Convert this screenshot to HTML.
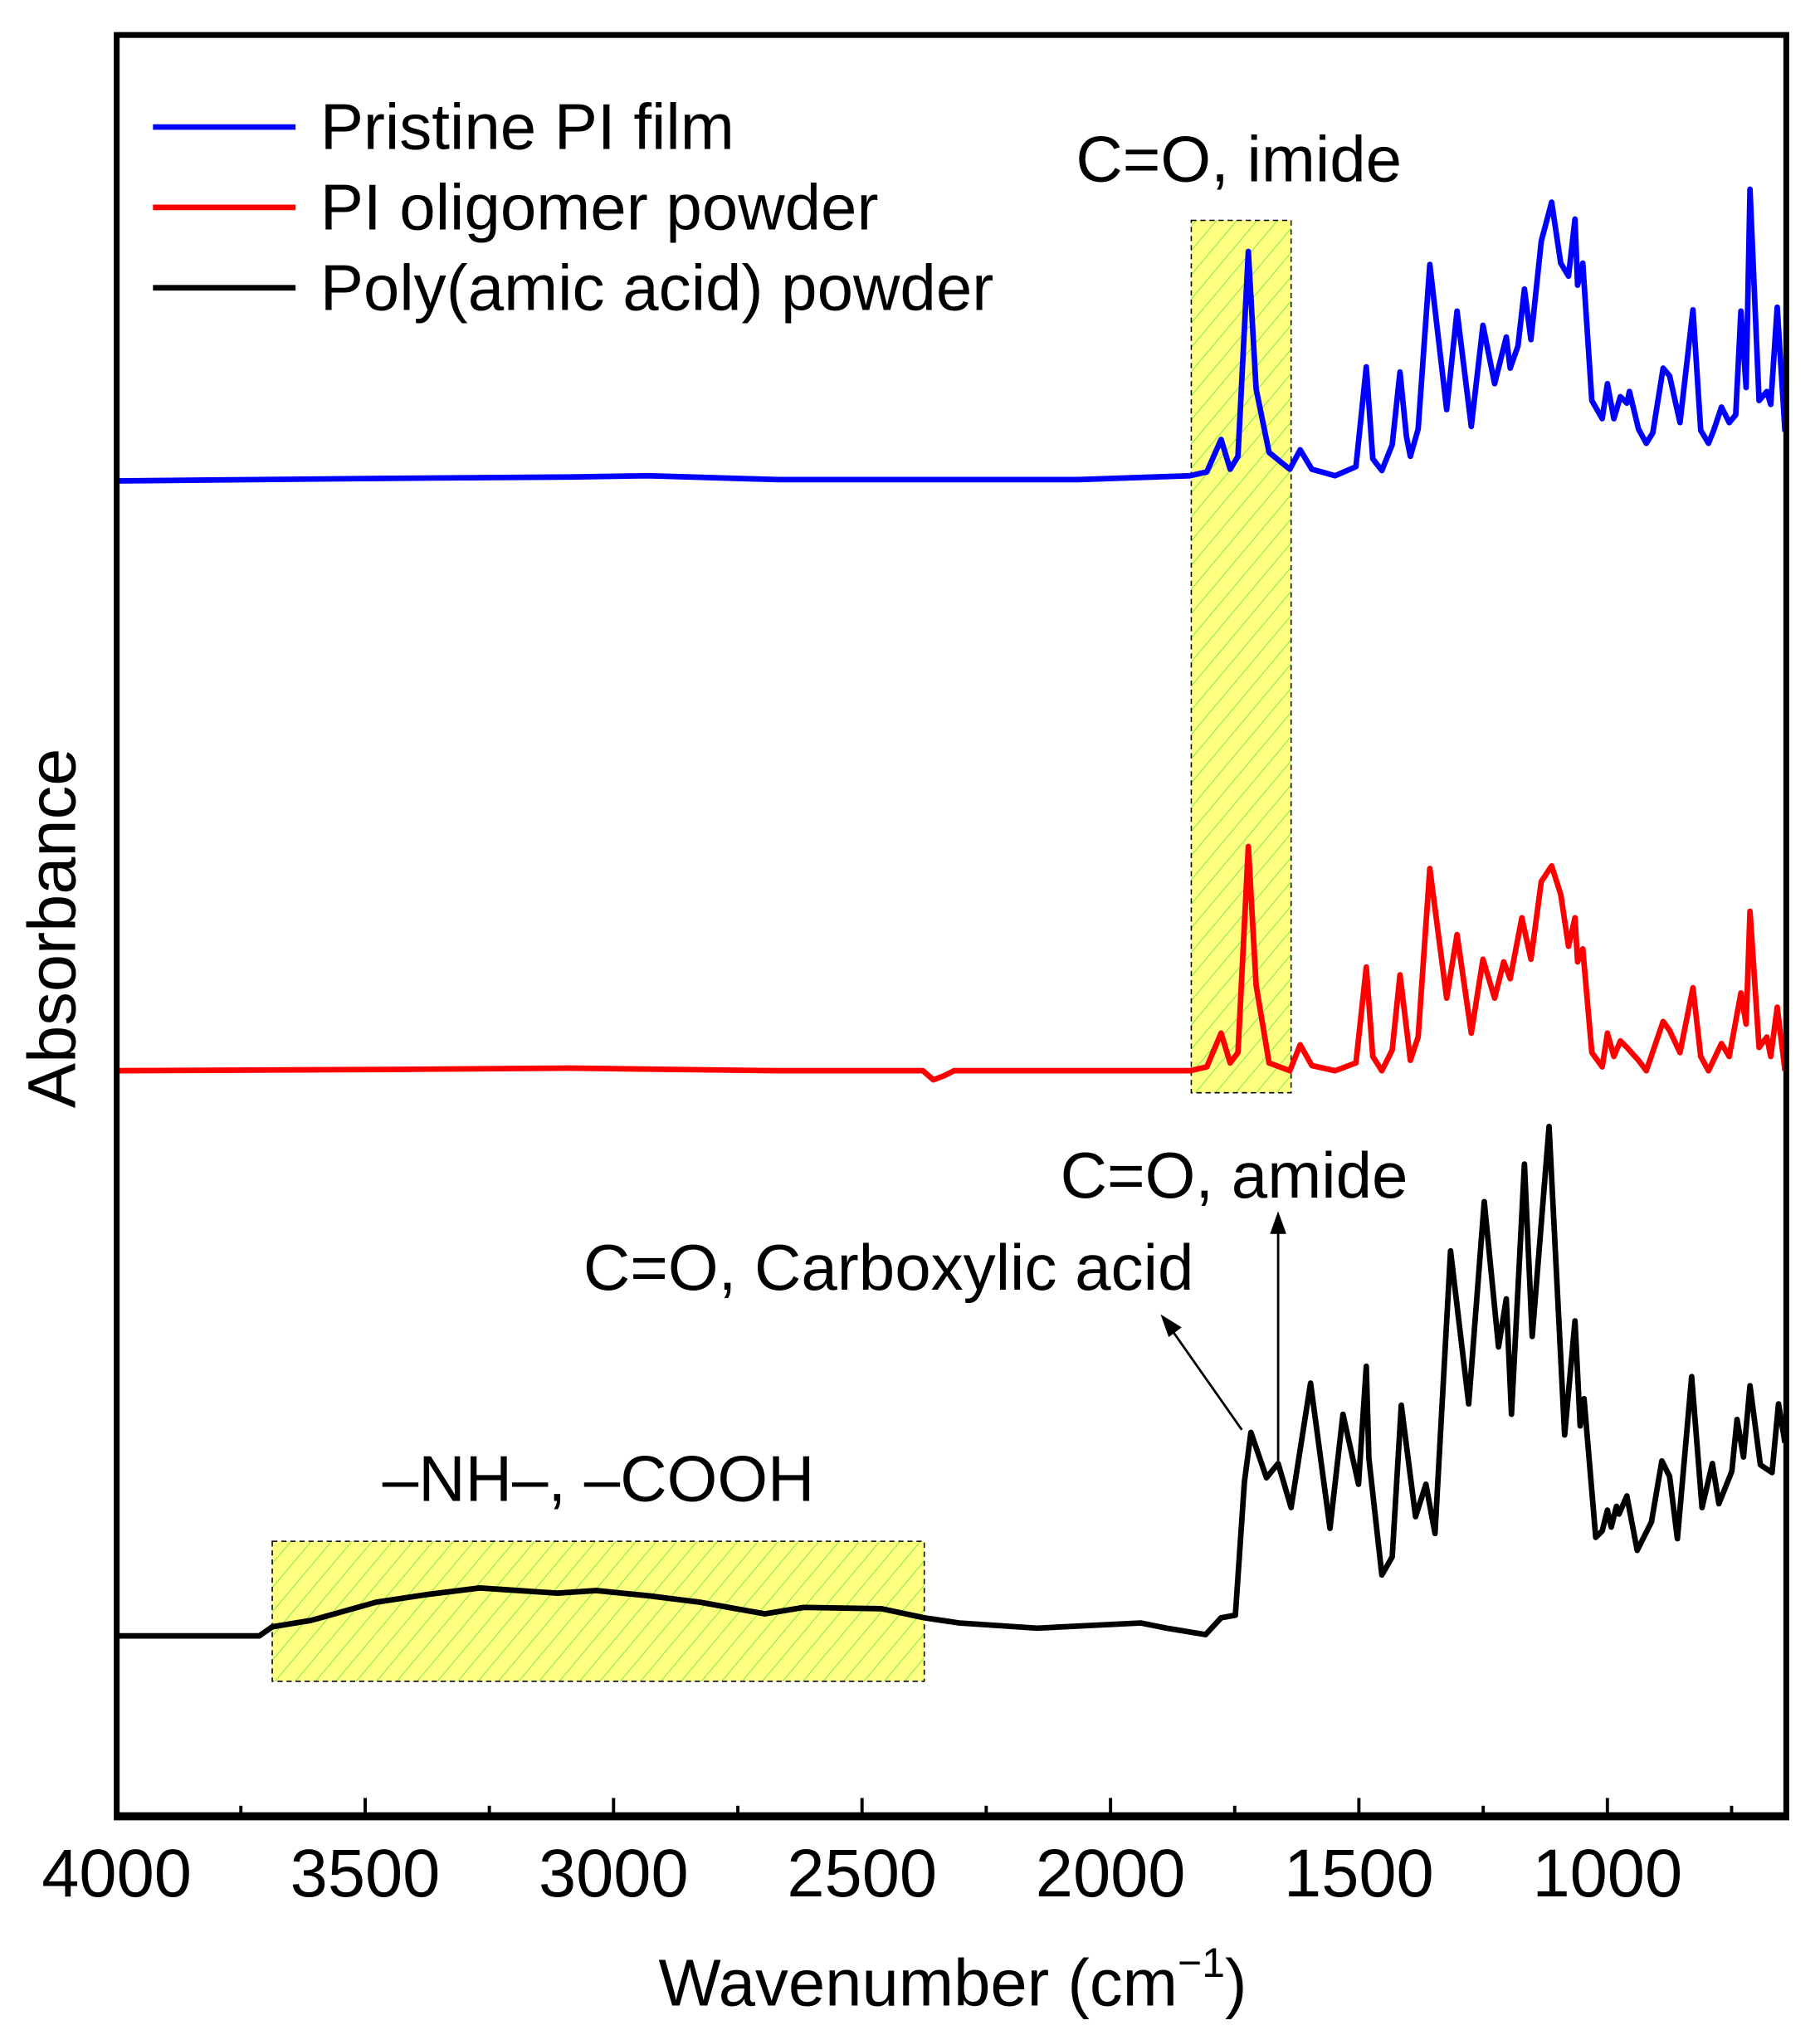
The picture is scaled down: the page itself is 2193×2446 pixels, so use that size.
<!DOCTYPE html>
<html><head><meta charset="utf-8"><style>html,body{margin:0;padding:0;background:#fff}svg{display:block}</style></head><body>
<svg xmlns="http://www.w3.org/2000/svg" width="2193" height="2446" viewBox="0 0 1404 1566" font-family="Liberation Sans, Arial, sans-serif">
<defs>
<pattern id="h" patternUnits="userSpaceOnUse" width="12" height="12" patternTransform="rotate(40)">
<rect width="12" height="12" fill="#ffff80"/>
<line x1="0" y1="0" x2="0" y2="12" stroke="#33dd33" stroke-width="0.8"/>
</pattern>
</defs>
<rect x="919" y="170" width="77" height="673" fill="url(#h)" stroke="#000" stroke-width="1" stroke-dasharray="4,3"/>
<rect x="210" y="1189" width="503" height="108" fill="url(#h)" stroke="#000" stroke-width="1" stroke-dasharray="4,3"/>
<g fill="none" stroke-width="4.3" stroke-linejoin="round">
<polyline stroke="#0000ff" points="90,371 300,369 440,368 500,367 600,370 720,370 832,370 918,367 931,364 942,339 949,362 955,352 963,194 969,300 979,349 995,362 1003,347 1012,362 1030,367 1046,360 1054,283 1059,354 1066,363 1074,343 1080,287 1085,337 1088,352 1094,331 1103,204 1116,316 1124,240 1135,329 1144,251 1153,296 1162,260 1165,284 1171,267 1176,223 1181,262 1189,186 1197,156 1204,203 1210,213 1215,169 1217,220 1221,203 1228,309 1236,323 1240,296 1245,323 1250,306 1255,311 1257,302 1264,331 1270,342 1275,334 1283,284 1288,290 1296,326 1306,239 1312,332 1318,342 1322,332 1328,314 1334,326 1339,320 1343,240 1347,299 1350,146 1357,309 1363,302 1366,312 1371,237 1377,333"/>
<polyline stroke="#ff0000" points="90,826 300,825 440,824 600,826 712,826 720,833 728,830 736,826 918,826 931,823 942,797 949,820 955,812 963,653 969,760 979,820 995,826 1003,806 1012,822 1030,826 1046,820 1054,746 1059,815 1066,826 1074,810 1080,752 1088,818 1094,800 1103,670 1116,770 1124,721 1135,797 1144,740 1153,770 1160,742 1165,755 1174,708 1181,740 1189,680 1197,668 1204,690 1210,730 1215,708 1217,742 1221,732 1228,812 1236,823 1240,797 1245,815 1250,803 1255,808 1264,818 1270,826 1283,788 1288,795 1296,812 1306,762 1312,815 1318,826 1328,805 1334,815 1343,766 1347,790 1350,703 1357,808 1363,800 1366,815 1371,777 1377,826"/>
<polyline stroke="#000" points="90,1262 200,1262 210,1255 240,1250 290,1236 330,1230 370,1225 400,1227 430,1229 460,1227 500,1231 540,1236 590,1245 620,1240 680,1241 713,1248 740,1252 800,1256 880,1252 900,1256 930,1261 942,1248 953,1246 960,1143 965,1105 977,1140 986,1129 996,1163 1011,1067 1026,1179 1036,1091 1048,1145 1054,1054 1056,1125 1066,1215 1074,1201 1081,1084 1092,1170 1100,1145 1107,1183 1119,965 1133,1083 1145,927 1156,1039 1162,1002 1166,1091 1176,898 1182,1031 1195,869 1207,1107 1215,1019 1219,1100 1222,1079 1231,1186 1236,1181 1240,1165 1243,1178 1247,1162 1249,1168 1255,1154 1263,1196 1274,1174 1282,1127 1288,1139 1294,1187 1305,1062 1313,1163 1321,1129 1326,1160 1336,1135 1340,1095 1345,1124 1350,1069 1358,1130 1367,1136 1372,1083 1377,1113"/>
</g>
<g stroke="#000" stroke-width="1.8" fill="#000">
<line x1="958" y1="1103" x2="904" y2="1026"/>
<polygon points="897,1016 910,1024 902,1030"/>
<line x1="986" y1="1127" x2="986" y2="950"/>
<polygon points="986,937 981,951 991,951"/>
</g>
<rect x="90" y="27" width="1288" height="1375" fill="none" stroke="#000" stroke-width="4.5"/>
<line x1="88" y1="1401" x2="1380" y2="1401" stroke="#000" stroke-width="6"/>
<g stroke="#000" stroke-width="2.5">
<line x1="281.7" y1="1399" x2="281.7" y2="1387"/><line x1="473.3" y1="1399" x2="473.3" y2="1387"/><line x1="665" y1="1399" x2="665" y2="1387"/><line x1="856.7" y1="1399" x2="856.7" y2="1387"/><line x1="1048.3" y1="1399" x2="1048.3" y2="1387"/><line x1="1240" y1="1399" x2="1240" y2="1387"/>
<line x1="185.8" y1="1399" x2="185.8" y2="1393"/><line x1="377.5" y1="1399" x2="377.5" y2="1393"/><line x1="569.2" y1="1399" x2="569.2" y2="1393"/><line x1="760.8" y1="1399" x2="760.8" y2="1393"/><line x1="952.5" y1="1399" x2="952.5" y2="1393"/><line x1="1144.2" y1="1399" x2="1144.2" y2="1393"/><line x1="1335.8" y1="1399" x2="1335.8" y2="1393"/>
</g>
<g font-size="52" text-anchor="middle" fill="#000">
<text x="90" y="1463">4000</text><text x="281.7" y="1463">3500</text><text x="473.3" y="1463">3000</text><text x="665" y="1463">2500</text><text x="856.7" y="1463">2000</text><text x="1048.3" y="1463">1500</text><text x="1240" y="1463">1000</text>
<text x="735" y="1547" font-size="51">Wavenumber (cm<tspan font-size="32" dy="-22">−1</tspan><tspan dy="22">)</tspan></text>
<text transform="translate(58,716) rotate(-90)">Absorbance</text>
</g>
<g stroke-width="4.3">
<line x1="118" y1="98" x2="228" y2="98" stroke="#0000ff"/>
<line x1="118" y1="160" x2="228" y2="160" stroke="#ff0000"/>
<line x1="118" y1="222" x2="228" y2="222" stroke="#000"/>
</g>
<g font-size="50" fill="#000">
<text x="247" y="115">Pristine PI film</text>
<text x="247" y="177">PI oligomer powder</text>
<text x="247" y="239">Poly(amic acid) powder</text>
<text x="830" y="140">C=O, imide</text>
<text x="818" y="924">C=O, amide</text>
<text x="450" y="995">C=O, Carboxylic acid</text>
<text x="295" y="1158">–NH–, –COOH</text>
</g>
</svg>
</body></html>
